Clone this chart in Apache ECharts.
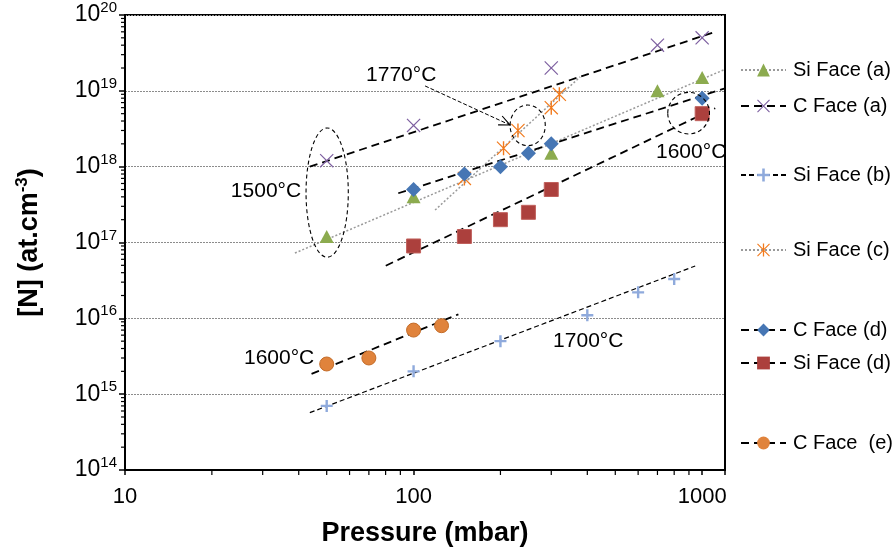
<!DOCTYPE html>
<html><head><meta charset="utf-8">
<script src="https://cdn.jsdelivr.net/npm/echarts@6/dist/echarts.min.js"></script>
<style>html,body{margin:0;padding:0;background:#fff}#c{width:896px;height:556px}</style>
</head><body><div id="c"></div>
<script>
// ---------- data (pressure mbar, [N] at.cm-3) ----------
const siFaceA = [[50,1.2e17],[100,4e17],[300,1.5e18],[700,1e19],[1000,1.5e19]];
const cFaceA  = [[50,1.2e18],[100,3.5e18],[300,2e19],[700,4e19],[1000,5e19]];
const siFaceB = [[50,7e14],[100,2e15],[200,5e15],[400,1.1e16],[600,2.2e16],[800,3.3e16]];
const siFaceC = [[150,7e17],[205,1.75e18],[230,3e18],[300,6e18],[320,9e18]];
const cFaceD  = [[100,5e17],[150,8e17],[200,1e18],[250,1.5e18],[300,2e18],[1000,8e18]];
const siFaceD = [[100,9e16],[150,1.2e17],[200,2e17],[250,2.5e17],[300,5e17],[1000,5e18]];
const cFaceE  = [[50,2.5e15],[70,3e15],[100,7e15],[125,8e15]];

// trend lines (end points)
const trendSiA = [[38.8,7.26e16],[1200,1.92e19]];
const trendCA  = [[43.7,1.0e18],[1110,6.0e19]];
const trendSiB = [[43.7,5.7e14],[946,4.9e16]];
const trendSiC = [[118.7,2.68e17],[378,1.53e19]];
const trendCD  = [[88.5,4.46e17],[1200,1.08e19]];
const trendSiD = [[80.1,4.94e16],[1110,5.9e18]];
const trendCE  = [[44.3,1.85e15],[143,1.13e16]];

const seriesNames = ['Si Face (a)','C Face (a)','Si Face (b)','Si Face (c)','C Face (d)','Si Face (d)','C Face  (e)'];

// tick labels
const xTickLabels = ['10','100','1000'];
const yTickExponents = ['14','15','16','17','18','19','20'];
const xMinorTicks = [20,30,40,50,60,70,80,90,200,300,400,500,600,700,800,900];
const yMinorMantissas = [2,3,4,5,6,7,8,9];
const yDecades = [1e14,1e15,1e16,1e17,1e18,1e19];

// annotations (data space)
const ellipses = [[42.4,59.4,6.4e16,3.24e18],[216,286,1.89e18,6.5e18],[760,1060,2.7e18,9.55e18]];
const arrows = [[109.6,1.16e19,216,3.54e18]];
const annoTexts = ['1770°C','1500°C','1600°C','1600°C','1700°C'];
const annoPos = [[90.6,1.62e19],[30.8,4.68e17],[916,1.57e18],[34.2,2.97e15],[403,5.07e15]];

// ---------- styles ----------
const FONT = "'Liberation Sans', Arial, sans-serif";
const xPath = 'path://M1.2,0L20,18.8L18.8,20L0,1.2Z M18.8,0L20,1.2L1.2,20L0,18.8Z';
const plusPath = 'path://M8,0L12,0L12,8L20,8L20,12L12,12L12,20L8,20L8,12L0,12L0,8L8,8Z';
const starPath = 'path://M9,0L11,0L11,20L9,20Z M1.2,0L20,18.8L18.8,20L0,1.2Z M18.8,0L20,1.2L1.2,20L0,18.8Z';

const defs = [
  {data: siFaceA, trend: trendSiA, symbol:'triangle', size:[14,13], color:'#8CAB4F', border:null,
   line:{color:'#9a9a9a', width:1.5, type:[2,2]}},
  {data: cFaceA, trend: trendCA, symbol:xPath, size:14, color:'#7D5FA0', border:null,
   line:{color:'#000', width:1.8, type:[8,5]}},
  {data: siFaceB, trend: trendSiB, symbol:plusPath, size:12, color:'#8FAADC', border:null,
   line:{color:'#000', width:1.2, type:[5,3]}},
  {data: siFaceC, trend: trendSiC, symbol:starPath, size:14, color:'#F27A1C', border:null,
   line:{color:'#9a9a9a', width:1.5, type:[2,2]}},
  {data: cFaceD, trend: trendCD, symbol:'diamond', size:15, color:'#4676B4', border:null,
   line:{color:'#000', width:1.8, type:[8,5]}},
  {data: siFaceD, trend: trendSiD, symbol:'rect', size:14, color:'#AC403D', border:'#C0605C',
   line:{color:'#000', width:1.8, type:[8,5]}},
  {data: cFaceE, trend: trendCE, symbol:'circle', size:14, color:'#E0833C', border:'#C46C28',
   line:{color:'#000', width:1.8, type:[8,5]}}
];

// legend layout
const legendLeft = 740;
const legendCenters = [72,108,177,252,332,365,445];

const series = [];
defs.forEach((d,i) => {
  series.push({
    name: seriesNames[i], type:'line', data: d.trend, showSymbol:false,
    symbol: d.symbol, symbolSize: d.size,
    itemStyle:{color:d.color, opacity:1},
    lineStyle:{color:d.line.color, width:d.line.width, type:d.line.type},
    z:2, silent:true, animation:false
  });
});
defs.forEach((d,i) => {
  series.push({
    name: seriesNames[i], type:'scatter', data: d.data,
    symbol: d.symbol, symbolSize: d.size,
    itemStyle:{color:d.color, opacity:1, borderColor: d.border || d.color, borderWidth: d.border ? 1 : 0},
    z:4, silent:true, animation:false
  });
});

// minor ticks
const minorXData = xMinorTicks.map(v => [v, 1e14]);
const minorYData = [];
yDecades.forEach(dec => yMinorMantissas.forEach(m => minorYData.push([10, m*dec])));
series.push({
  type:'custom', data:minorXData, silent:true, z:5, clip:false, animation:false,
  encode:{x:0,y:1},
  renderItem:(p,api)=>{ const c=api.coord([api.value(0),api.value(1)]);
    return {type:'line', shape:{x1:c[0],y1:c[1],x2:c[0],y2:c[1]+5}, style:{stroke:'#000',lineWidth:1.2}}; }
});
series.push({
  type:'custom', data:minorYData, silent:true, z:5, clip:false, animation:false,
  encode:{x:0,y:1},
  renderItem:(p,api)=>{ const c=api.coord([api.value(0),api.value(1)]);
    return {type:'line', shape:{x1:c[0]-4,y1:c[1],x2:c[0],y2:c[1]}, style:{stroke:'#000',lineWidth:1.2}}; }
});
// ellipses
series.push({
  type:'custom', data:ellipses, silent:true, z:6, clip:false, animation:false,
  encode:{x:[0,1],y:[2,3]},
  renderItem:(p,api)=>{
    const a=api.coord([api.value(0),api.value(2)]), b=api.coord([api.value(1),api.value(3)]);
    return {type:'ellipse', shape:{cx:(a[0]+b[0])/2, cy:(a[1]+b[1])/2, rx:Math.abs(b[0]-a[0])/2, ry:Math.abs(b[1]-a[1])/2},
      style:{fill:'none', stroke:'#000', lineWidth:1.1, lineDash:[4,3]}};
  }
});
// arrow
series.push({
  type:'custom', data:arrows, silent:true, z:6, clip:false, animation:false,
  encode:{x:[0,2],y:[1,3]},
  renderItem:(p,api)=>{
    const a=api.coord([api.value(0),api.value(1)]), b=api.coord([api.value(2),api.value(3)]);
    const ang=Math.atan2(b[1]-a[1], b[0]-a[0]); const L=12, w=0.42;
    const p1=[b[0]-L*Math.cos(ang-w), b[1]-L*Math.sin(ang-w)];
    const p2=[b[0]-L*Math.cos(ang+w), b[1]-L*Math.sin(ang+w)];
    return {type:'group', children:[
      {type:'line', shape:{x1:a[0],y1:a[1],x2:b[0],y2:b[1]}, style:{stroke:'#000',lineWidth:1,lineDash:[4,2]}},
      {type:'polyline', shape:{points:[p1,b,p2]}, style:{stroke:'#000',lineWidth:1.1,fill:'none'}}
    ]};
  }
});
// annotation texts
series.push({
  type:'custom', data:annoPos, silent:true, z:7, clip:false, animation:false,
  encode:{x:0,y:1},
  renderItem:(p,api)=>{
    const c=api.coord([api.value(0),api.value(1)]);
    return {type:'text', x:c[0], y:c[1], style:{text:annoTexts[p.dataIndex], fill:'#000',
      fontSize:21, fontFamily:FONT, align:'center', verticalAlign:'middle', textAlign:'center', textVerticalAlign:'middle'}};
  }
});

const chart = echarts.init(document.getElementById('c'), null, {renderer:'canvas'});
chart.setOption({
  animation:false,
  backgroundColor:'#fff',
  grid:{left:125, right:171, top:15, bottom:86, containLabel:false, outerBoundsMode:'none',
        show:true, borderColor:'#000', borderWidth:2, backgroundColor:'transparent'},
  xAxis:{
    type:'log', logBase:10, min:10, max:1200,
    name:'Pressure (mbar)', nameLocation:'middle', nameGap:50,
    nameTextStyle:{fontSize:27, fontWeight:'bold', fontFamily:FONT, color:'#000'},
    axisLine:{show:true, lineStyle:{color:'#000', width:2}},
    axisTick:{show:true, length:5, lineStyle:{color:'#000', width:1.5}},
    minorTick:{show:false},
    splitLine:{show:false},
    axisLabel:{fontSize:22, fontFamily:FONT, color:'#000', margin:16, showMaxLabel:true,
      formatter:(v)=>{ const e=Math.log10(v); if(Math.abs(e-Math.round(e))>1e-6) return '';
        const s=String(Math.round(v)); return xTickLabels.indexOf(s)>=0 ? s : ''; }}
  },
  yAxis:{
    type:'log', logBase:10, min:1e14, max:1e20,
    name:'[N] (at.cm{s|-3})', nameLocation:'middle', nameGap:80, nameRotate:90,
    nameTextStyle:{fontSize:27, fontWeight:'bold', fontFamily:FONT, color:'#000',
      rich:{s:{fontSize:17, fontWeight:'bold', fontFamily:FONT, color:'#000', padding:[0,0,14,0]}}},
    axisLine:{show:true, lineStyle:{color:'#000', width:2}},
    axisTick:{show:true, length:6, lineStyle:{color:'#000', width:1.5}},
    minorTick:{show:false},
    splitLine:{show:true, lineStyle:{color:'#8c8c8c', width:1, type:[2,1]}},
    axisLabel:{fontFamily:FONT, color:'#000', margin:8,
      formatter:(v)=>{ const e=String(Math.round(Math.log10(v)));
        return yTickExponents.indexOf(e)>=0 ? '{b|10}{s|'+e+'}' : ''; },
      rich:{b:{fontSize:23, fontFamily:FONT, color:'#000'},
            s:{fontSize:15, fontFamily:FONT, color:'#000', padding:[0,0,14,0]}}}
  },
  legend: seriesNames.map((n,i)=>({
    data:[n], left:legendLeft, top:legendCenters[i]-12, padding:0, itemGap:0,
    itemWidth:45, itemHeight:16, selectedMode:false,
    textStyle:{fontSize:20, fontFamily:FONT, color:'#000', padding:[0,0,0,2]}
  })),
  series: series
});
</script></body></html>
